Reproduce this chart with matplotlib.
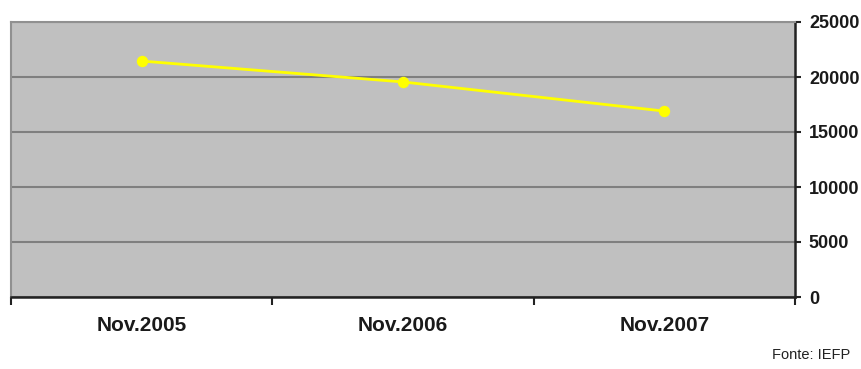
import matplotlib
matplotlib.use("Agg")
import matplotlib.pyplot as plt

# Data
categories = ["Nov.2005", "Nov.2006", "Nov.2007"]
values = [21450, 19550, 16900]
y_ticks = [0, 5000, 10000, 15000, 20000, 25000]

plt.rcParams["font.family"] = ["Liberation Sans", "DejaVu Sans"]

W, H = 861, 369
fig = plt.figure(figsize=(W / 100, H / 100), dpi=100)
ax = fig.add_axes([11 / W, (H - 297) / H, (795 - 11) / W, (297 - 22) / H])
ax.set_facecolor("#C0C0C0")

x = range(len(categories))
ax.plot(x, values, color="#FFFF00", linewidth=2, marker="o", markersize=7.2,
        zorder=3, clip_on=False)

ax.set_xlim(-0.5, len(categories) - 0.5)
ax.set_ylim(0, 25000)

# category labels centred, ticks on the boundaries
ax.set_xticks([i - 0.5 for i in range(len(categories) + 1)])
ax.set_xticklabels([])
ax.set_xticks(list(x), minor=True)
ax.set_xticklabels(categories, minor=True, fontsize=15, fontweight="bold",
                   color="#1a1a1a")
ax.tick_params(axis="x", which="major", direction="out", length=6, width=1.5,
               color="#222222")
ax.tick_params(axis="x", which="minor", length=0, pad=14)

ax.yaxis.tick_right()
ax.set_yticks(y_ticks)
ax.set_yticklabels([str(v) for v in y_ticks], fontsize=13,
                   fontweight="bold", color="#1a1a1a")
ax.tick_params(axis="y", direction="out", length=4, width=1.5, pad=6,
               color="#222222")

ax.grid(axis="y", color="#7f7f7f", linewidth=1.5)
ax.set_axisbelow(True)

ax.spines["left"].set_color("#909090")
ax.spines["left"].set_linewidth(1.5)
ax.spines["top"].set_color("#909090")
ax.spines["top"].set_linewidth(1.5)
ax.spines["bottom"].set_color("#222222")
ax.spines["bottom"].set_linewidth(1.8)
ax.spines["right"].set_color("#222222")
ax.spines["right"].set_linewidth(1.8)

fig.text(850 / W, 1 - 355 / H, "Fonte: IEFP", ha="right", va="center",
         fontsize=10.5, color="#222222")

fig.savefig("out.png", dpi=100)
